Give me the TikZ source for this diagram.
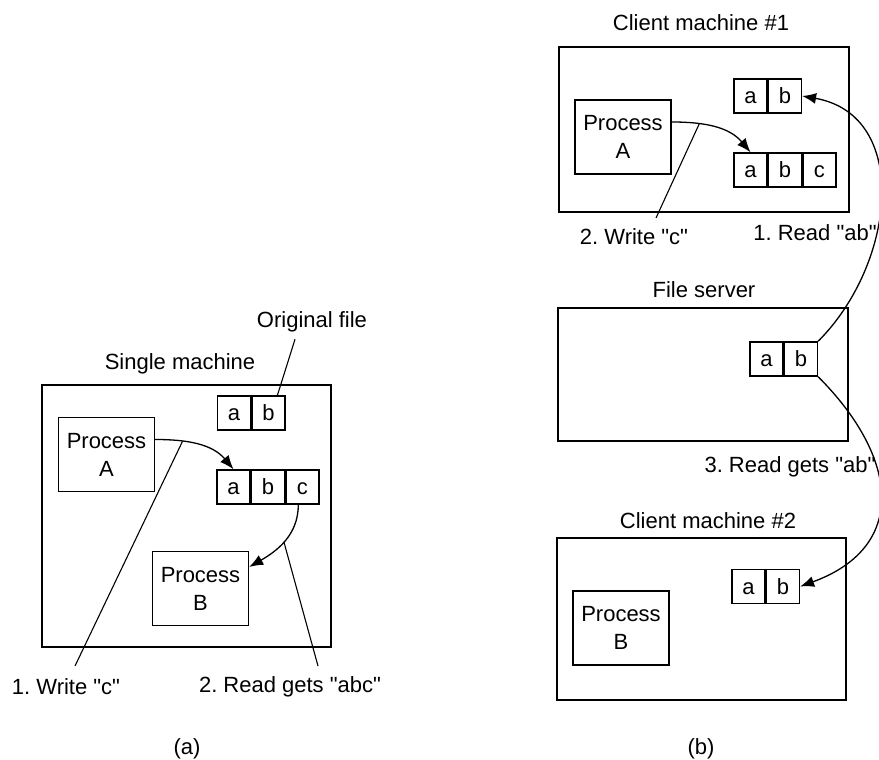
\documentclass[tikz,border=0pt]{standalone}
\usepackage{fontspec}
\setmainfont{Liberation Sans}
\usepackage{tikz}
\usetikzlibrary{arrows.meta, positioning}

\begin{document}
\frenchspacing
\begin{tikzpicture}[
    x=0.5pt, y=0.5pt,
    font=\fontsize{11pt}{14pt}\selectfont,
    machine/.style={rectangle, draw, line width=1.25pt, inner sep=0pt},
    proc/.style={rectangle, draw, line width=0.7pt, align=center, minimum width=48pt, minimum height=37pt, inner sep=0pt},
    cell/.style={rectangle, draw, line width=0.7pt, minimum width=16.5pt, minimum height=17pt, inner sep=0pt, text height=8pt, text depth=0pt},
    arrow/.style={-{Latex[length=7pt, width=5.5pt]}, line width=0.65pt},
    pointer/.style={line width=0.55pt}
]
\useasboundingbox (0,0) rectangle (879,760);

% Single machine
\node[machine, minimum width=144.5pt, minimum height=131pt] (single) at (186.5,244) {};
\node (singletitle) at (180,396) {Single machine};
\node (origtitle) at (312,438) {Original file};
\node[proc] (procA) at (106.5,305.5) {Process\\A};
\node[proc] (procB) at (200.5,171.5) {Process\\B};
\node[cell] (origA) at (234,347) {a};
\node[cell, right=0pt of origA] (origB) {b};
\node[cell] (copyA) at (233.5,273) {a};
\node[cell, right=0pt of copyA] (copyB) {b};
\node[cell, right=0pt of copyB] (copyC) {c};

% Single machine labels
\node (writelbl) at (66,73) {1. Write \textquotedbl c\textquotedbl};
\node (readlbl) at (290,73) {2. Read gets \textquotedbl abc\textquotedbl};
\coordinate (writeend) at (75,94);
\coordinate (readend) at (318,94);

% Single machine arrows
\draw[pointer] ([xshift=-8.5pt]origtitle.south) -- ([xshift=4.5pt]origB.north);
\draw[arrow] ([yshift=7.5pt]procA.east) to[out=0, in=130] coordinate[pos=0.3] (writeA) (copyA.north);
\draw[arrow] ([xshift=-2pt]copyC.south) to[out=-90, in=30] coordinate[pos=0.5] (readA) ([yshift=10.75pt]procB.east);
\draw[pointer] (writeA) -- (writeend);
\draw[pointer] (readA) -- (readend);

% Client machine #1
\node (client1title) at (701,737) {Client machine \#1};
\node[machine, minimum width=145pt, minimum height=82.5pt] (client1) at (704,630.5) {};
\node[proc] (procA2) at (623,623) {Process\\A};
\node[cell] (cacheA) at (750.5,664) {a};
\node[cell, right=0pt of cacheA] (cacheB) {b};
\node[cell] (newA) at (750.5,590) {a};
\node[cell, right=0pt of newA] (newB) {b};
\node[cell, right=0pt of newB] (newC) {c};
\node (write2lbl) at (634,523) {2. Write \textquotedbl c\textquotedbl};
\node (read1lbl) at (815,527) {1. Read \textquotedbl ab\textquotedbl};
\coordinate (write2end) at (656,542);
\draw[arrow] ([yshift=7.5pt]procA2.east) to[out=0, in=130] coordinate[pos=0.3] (writeB) (newA.north);
\draw[pointer] (writeB) -- (write2end);

% File server
\node (servertitle) at (704,470) {File server};
\node[machine, minimum width=145pt, minimum height=66.5pt] (server) at (703,385.5) {};
\node[cell] (srvA) at (766.5,401) {a};
\node[cell, right=0pt of srvA] (srvB) {b};
\node (read3lbl) at (790,293) {3. Read gets \textquotedbl ab\textquotedbl};

% Client machine #2
\node (client2title) at (708,239) {Client machine \#2};
\node[machine, minimum width=144.5pt, minimum height=81pt] (client2) at (701.5,141) {};
\node[proc] (procB2) at (621,132) {Process\\B};
\node[cell] (fetchA) at (748.5,173.5) {a};
\node[cell, right=0pt of fetchA] (fetchB) {b};

% Remote reads
\draw[arrow] (srvB.north east) to[out=45, in=-10, looseness=1.15] (cacheB.east);
\draw[arrow] (srvB.south east) to[out=-45, in=20, looseness=1.4] (fetchB.east);

% Captions
\node (capa) at (187,11) {(a)};
\node (capb) at (701,11) {(b)};

\end{tikzpicture}
\end{document}
